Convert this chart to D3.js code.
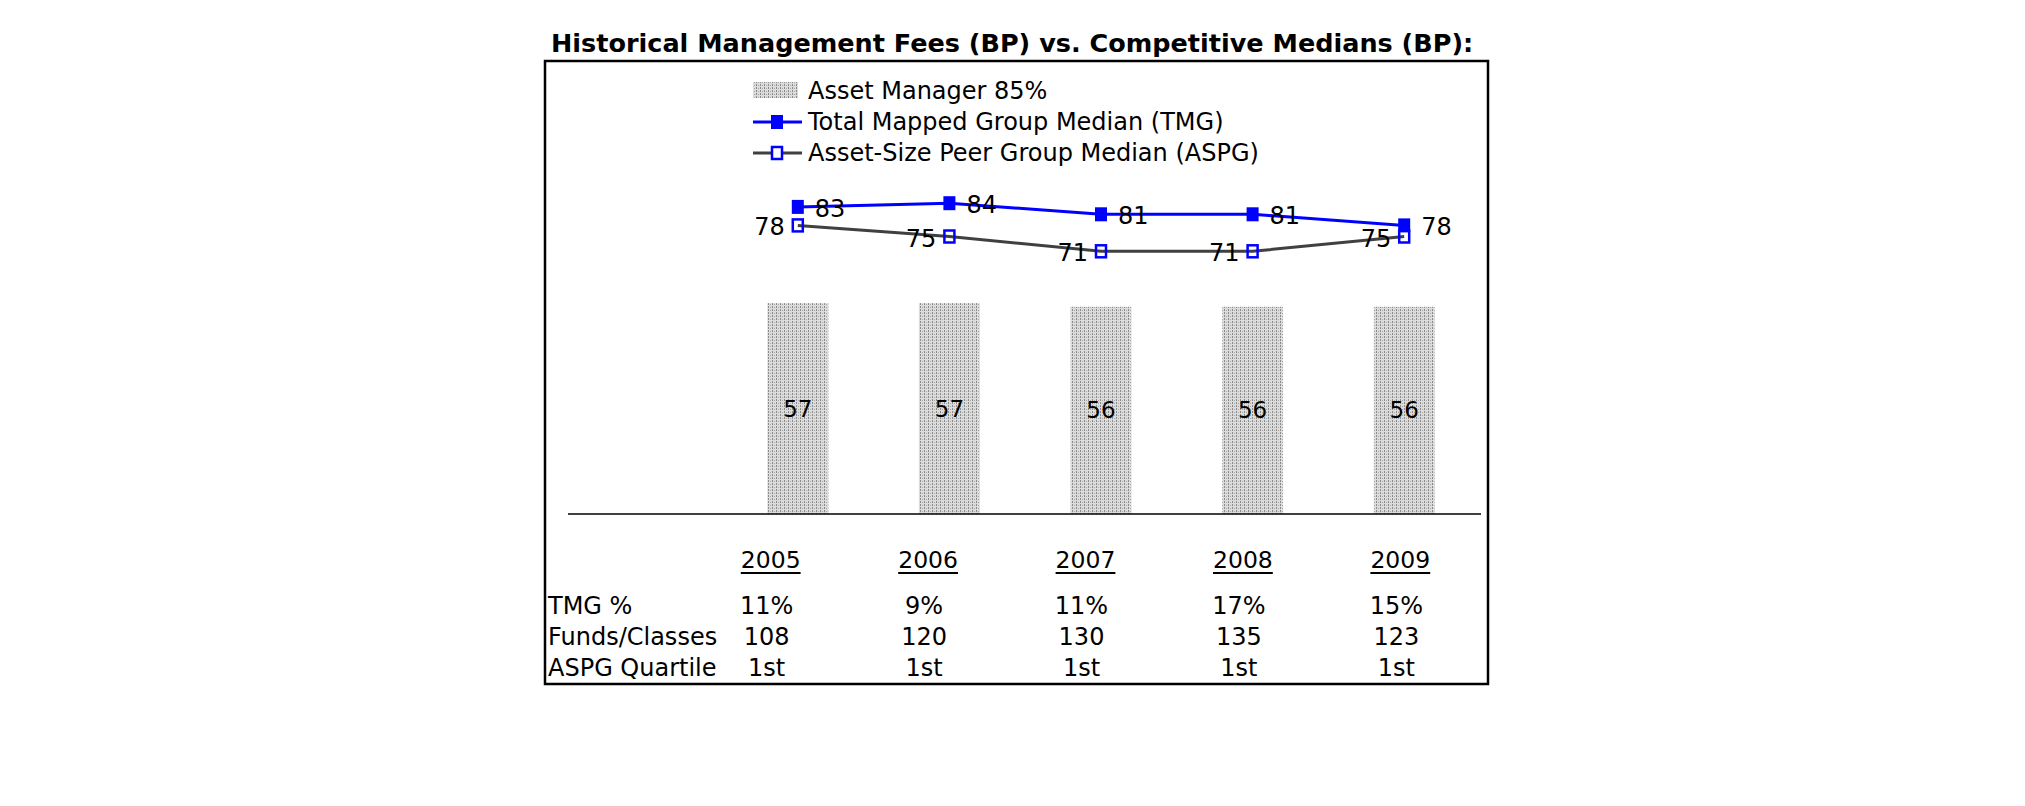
<!DOCTYPE html>
<html><head><meta charset="utf-8">
<script src="https://cdn.jsdelivr.net/npm/d3@7"></script>
<style>html,body{margin:0;padding:0;background:#fff;}svg{display:block;}</style>
</head><body>
<svg id="chart" width="2025" height="806"></svg>
<script>
const years = ["2005","2006","2007","2008","2009"];
const assetManager = [57,57,56,56,56];
const tmgMedian = [83,84,81,81,78];
const aspgMedian = [78,75,71,71,75];
const tmgPct = ["11%","9%","11%","17%","15%"];
const fundsClasses = ["108","120","130","135","123"];
const aspgQuartile = ["1st","1st","1st","1st","1st"];
const rowLabels = ["TMG %","Funds/Classes","ASPG Quartile"];
const legendLabels = ["Asset Manager 85%","Total Mapped Group Median (TMG)","Asset-Size Peer Group Median (ASPG)"];
const titleText = "Historical Management Fees (BP) vs. Competitive Medians (BP):";

const FONT = "DejaVu Sans, Verdana, sans-serif";
const svg = d3.select("#chart");
svg.append("rect").attr("width",2025).attr("height",806).attr("fill","#fff");

const defs = svg.append("defs");
const pat = defs.append("pattern").attr("id","dots").attr("patternUnits","userSpaceOnUse")
  .attr("width",4).attr("height",3);
pat.append("rect").attr("width",4).attr("height",3).attr("fill","#dcdcdc");
pat.append("rect").attr("x",0).attr("y",0).attr("width",1).attr("height",2).attr("fill","#8a8a8a");
pat.append("rect").attr("x",2).attr("y",1).attr("width",1).attr("height",1).attr("fill","#a8a8a8");

// title
svg.append("text").attr("x",551).attr("y",52).attr("font-family",FONT)
  .attr("font-weight","bold").attr("font-size",25.5).attr("fill","#000").text(titleText);

// frame
svg.append("rect").attr("x",545).attr("y",61).attr("width",943).attr("height",623)
  .attr("fill","none").attr("stroke","#000").attr("stroke-width",2.5);

const x = d3.scalePoint().domain(years).range([722,1480]).padding(0.5);
const y = d3.scaleLinear().domain([0,100]).range([514,144]);
const barW = 61;

// bars
svg.append("g").selectAll("rect").data(years).join("rect")
  .attr("x",d=>x(d)-barW/2).attr("y",(d,i)=>y(assetManager[i]))
  .attr("width",barW).attr("height",(d,i)=>y(0)-y(assetManager[i]))
  .attr("fill","url(#dots)");
svg.append("g").selectAll("text").data(years).join("text")
  .attr("x",d=>x(d)).attr("y",(d,i)=>(y(0)+y(assetManager[i]))/2+8)
  .attr("text-anchor","middle").attr("font-family",FONT).attr("font-size",23).attr("fill","#000")
  .text((d,i)=>assetManager[i]);

// baseline
svg.append("line").attr("x1",568).attr("x2",1481).attr("y1",y(0)).attr("y2",y(0))
  .attr("stroke","#000").attr("stroke-width",1.5);

// lines
const lineGen = arr => d3.line().x((d,i)=>x(years[i])).y(d=>y(d))(arr);
svg.append("path").attr("d",lineGen(aspgMedian)).attr("fill","none").attr("stroke","#404040").attr("stroke-width",3);
svg.append("path").attr("d",lineGen(tmgMedian)).attr("fill","none").attr("stroke","#0000ff").attr("stroke-width",3);

svg.append("g").selectAll("rect").data(aspgMedian).join("rect")
  .attr("x",(d,i)=>x(years[i])-5).attr("y",d=>y(d)-6).attr("width",10).attr("height",12)
  .attr("fill","none").attr("stroke","#0000ff").attr("stroke-width",2.5);
svg.append("g").selectAll("rect").data(tmgMedian).join("rect")
  .attr("x",(d,i)=>x(years[i])-6).attr("y",d=>y(d)-7).attr("width",12).attr("height",14)
  .attr("fill","#0000ff");

svg.append("g").selectAll("text").data(tmgMedian).join("text")
  .attr("x",(d,i)=>x(years[i])+17).attr("y",d=>y(d)+10)
  .attr("font-family",FONT).attr("font-size",24).attr("fill","#000").text(d=>d);
svg.append("g").selectAll("text").data(aspgMedian).join("text")
  .attr("x",(d,i)=>x(years[i])-13).attr("y",d=>y(d)+10).attr("text-anchor","end")
  .attr("font-family",FONT).attr("font-size",24).attr("fill","#000").text(d=>d);

// legend
const lg = svg.append("g");
const lx0 = 753, lx1 = 802, lmx = 777, ltx = 808;
const ly = [91,122,153];
lg.append("rect").attr("x",lx0).attr("y",ly[0]-9).attr("width",lx1-lx0-4).attr("height",16).attr("fill","url(#dots)");
lg.append("line").attr("x1",lx0).attr("x2",lx1).attr("y1",ly[1]).attr("y2",ly[1]).attr("stroke","#0000ff").attr("stroke-width",3);
lg.append("rect").attr("x",lmx-6).attr("y",ly[1]-7).attr("width",12).attr("height",14).attr("fill","#0000ff");
lg.append("line").attr("x1",lx0).attr("x2",lx1).attr("y1",ly[2]).attr("y2",ly[2]).attr("stroke","#404040").attr("stroke-width",3);
lg.append("rect").attr("x",lmx-5).attr("y",ly[2]-6).attr("width",10).attr("height",12).attr("fill","#fff").attr("stroke","#0000ff").attr("stroke-width",2.5);
lg.selectAll("text").data(legendLabels).join("text")
  .attr("x",ltx).attr("y",(d,i)=>ly[i]+8).attr("font-family",FONT).attr("font-size",24).attr("fill","#000").text(d=>d);

// table
const tx = d3.scalePoint().domain(years).range([692,1479]).padding(0.5);
const yr = svg.append("g").selectAll("g").data(years).join("g");
yr.append("text").attr("x",d=>tx(d)).attr("y",568).attr("text-anchor","middle")
  .attr("font-family",FONT).attr("font-size",23.5).attr("fill","#000").text(d=>d)
  .each(function(){
    const b = this.getBBox();
    d3.select(this.parentNode).append("line").attr("x1",b.x).attr("x2",b.x+b.width)
      .attr("y1",573).attr("y2",573).attr("stroke","#000").attr("stroke-width",2);
  });
const rows = [tmgPct, fundsClasses, aspgQuartile];
const rowY = [614,645,676];
rowLabels.forEach((lab,r)=>{
  svg.append("text").attr("x",548).attr("y",rowY[r]).attr("font-family",FONT).attr("font-size",24).attr("fill","#000").text(lab);
  svg.append("g").selectAll("text").data(rows[r]).join("text")
    .attr("x",(d,i)=>tx(years[i])-4).attr("y",rowY[r]).attr("text-anchor","middle")
    .attr("font-family",FONT).attr("font-size",24).attr("fill","#000").text(d=>d);
});
</script>
</body></html>
